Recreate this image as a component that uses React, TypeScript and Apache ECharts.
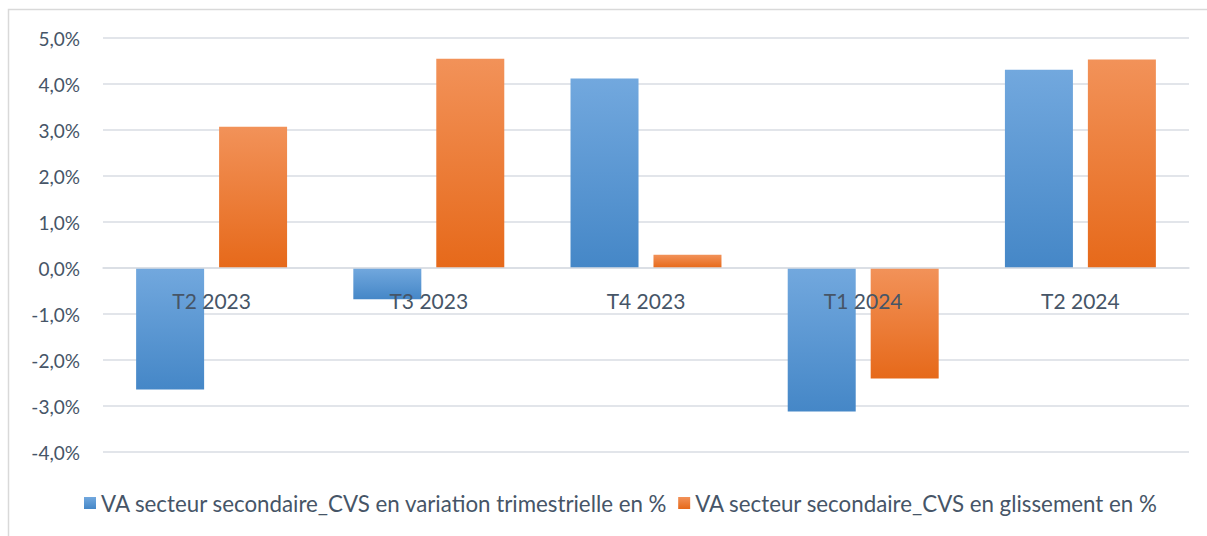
import React, { useEffect, useRef } from "react";
import * as echarts from "echarts";

const categories = ["T2 2023", "T3 2023", "T4 2023", "T1 2024", "T2 2024"];
const seriesNames = [
  "VA secteur secondaire_CVS en variation trimestrielle en %",
  "VA secteur secondaire_CVS en glissement en %",
];
const trimestrielle = [-2.64, -0.68, 4.12, -3.12, 4.31];
const glissement = [3.07, 4.55, 0.29, -2.4, 4.53];
const yMin = -4;
const yMax = 5;
const yInterval = 1;

const TEXT = "#465567";
const FONT = "Lato";
const GRID_TOP = 38;
const GRID_BOTTOM = 84;
const HEIGHT = 536;

const grad = (top: string, bottom: string) =>
  new echarts.graphic.LinearGradient(0, 0, 0, 1, [
    { offset: 0, color: top },
    { offset: 1, color: bottom },
  ]);

export default function App() {
  const ref = useRef<HTMLDivElement>(null);
  useEffect(() => {
    if (!ref.current) return;
    const chart = echarts.init(ref.current, undefined, { renderer: "svg" });
    const blue = grad("#72a8de", "#4587c7");
    const orange = grad("#f29259", "#e6691a");
    const plotH = HEIGHT - GRID_TOP - GRID_BOTTOM;
    const zeroOffset = -(plotH * (0 - yMin)) / (yMax - yMin);
    chart.setOption({
      animation: false,
      backgroundColor: "#ffffff",
      textStyle: { fontFamily: FONT },
      graphic: [
        {
          type: "rect",
          shape: { x: 8.5, y: 9.5, width: 1300, height: 600 },
          style: { fill: "none", stroke: "#d9d9d9", lineWidth: 1.5 },
          silent: true,
          z: -10,
        },
      ],
      grid: { left: 103, right: 18, top: GRID_TOP, bottom: GRID_BOTTOM },
      legend: {
        data: seriesNames,
        left: 79,
        top: 487,
        icon: "rect",
        itemWidth: 12,
        itemHeight: 12,
        itemGap: 10,
        textStyle: { color: TEXT, fontSize: 22.3, fontFamily: FONT },
      },
      xAxis: {
        type: "category",
        data: categories,
        offset: zeroOffset,
        z: 10,
        axisLine: { show: true, onZero: false, lineStyle: { color: "#d9dde3", width: 1.5 } },
        axisTick: { show: false },
        axisLabel: { color: TEXT, fontSize: 21, margin: 22, fontFamily: FONT },
      },
      yAxis: {
        type: "value",
        min: yMin,
        max: yMax,
        interval: yInterval,
        axisLine: { show: false },
        axisTick: { show: false },
        splitLine: { lineStyle: { color: "#d9dde3", width: 1.5 } },
        axisLabel: {
          color: TEXT,
          fontSize: 19,
          margin: 23,
          fontFamily: FONT,
          formatter: (v: number) => v.toFixed(1).replace(".", ",") + "%",
        },
      },
      series: [
        {
          name: seriesNames[0],
          type: "bar",
          data: trimestrielle,
          barWidth: 68,
          barGap: "22%",
          itemStyle: { color: blue },
        },
        {
          name: seriesNames[1],
          type: "bar",
          data: glissement,
          barWidth: 68,
          itemStyle: { color: orange },
        },
      ],
    });
    return () => chart.dispose();
  }, []);
  return (
    <div
      ref={ref}
      style={{ position: "fixed", left: 0, top: 0, width: 1207, height: 536 }}
    />
  );
}
